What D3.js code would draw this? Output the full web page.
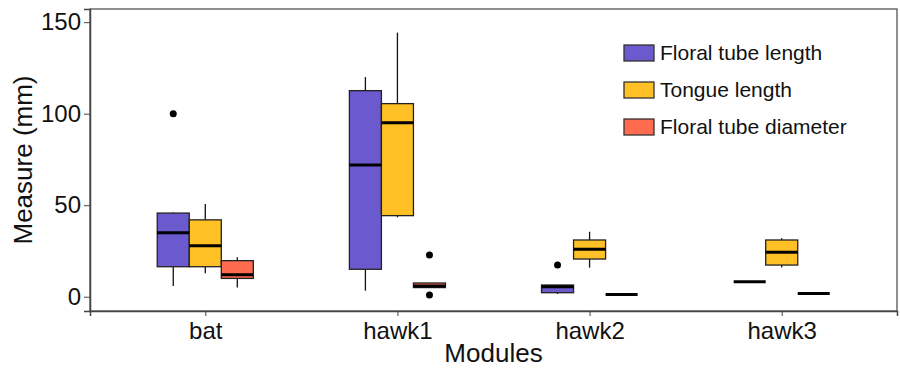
<!DOCTYPE html>
<html>
<head>
<meta charset="utf-8">
<script src="https://cdn.jsdelivr.net/npm/d3@7"></script>
<style>
  body { margin: 0; background: #fff; }
  text { font-family: "Liberation Sans", Arial, sans-serif; fill: #111; }
</style>
</head>
<body>
<div id="boxplotContainer"></div>
<script>

// categorieen en reeksen
var modules = ["bat", "hawk1", "hawk2", "hawk3"];
var reeksen = ["Floral tube length", "Tongue length", "Floral tube diameter"];
var kleuren = ["#6A5ACD", "#FFC125", "#FF6B4F"];
var yTicks = [0, 50, 100, 150];

// per module: [ondergrens snor, Q1, mediaan, Q3, bovengrens snor]
var buisLengte = [[5.8, 16.4, 35, 45.7, 46], [3.3, 15, 72, 112.6, 120], [1.5, 2.2, 5.5, 6.4, 6.4], [8.2, 8.2, 8.2, 8.2, 8.2]];
var tongLengte = [[12.8, 16.4, 27.9, 42, 50.6], [43.4, 44.3, 95, 105.5, 144.3], [15.9, 20.6, 25.9, 31, 35.5], [16, 17.3, 24.3, 31, 31.9]];
var buisDiameter = [[5.1, 10, 12, 19.7, 21.5], [5, 5, 5.8, 7.5, 7.5], [1.2, 1.2, 1.2, 1.2, 1.2], [1.8, 1.8, 1.8, 1.8, 1.8]];

// uitschieters per module
var buisLengteUit = [[100], [], [17.3], []];
var tongLengteUit = [[], [], [], []];
var buisDiameterUit = [[], [22.8, 0.9], [], []];

var breedte = 900;
var hoogte = 368;

// marges vast leggen
var marge = {boven: 9, beneden: 57, rechts: 3, links: 90};
var grafiekHoogte = hoogte - marge.boven - marge.beneden;
var grafiekBreedte = breedte - marge.rechts - marge.links;

// data per reeks samenvoegen
var statistiek = [buisLengte, tongLengte, buisDiameter];
var uitschieters = [buisLengteUit, tongLengteUit, buisDiameterUit];
var dozen = [];
var punten = [];
for (var j = 0; j < reeksen.length; j++) {
  for (var i = 0; i < modules.length; i++) {
    var s = statistiek[j][i];
    dozen.push({module: modules[i], reeks: j, lo: s[0], q1: s[1], med: s[2], q3: s[3], hi: s[4]});
    uitschieters[j][i].forEach(function(v) {
      punten.push({module: modules[i], reeks: j, waarde: v});
    });
  }
}

// maak een SVG element
var svg = d3.select("#boxplotContainer")
            .append("svg")
            .attr("height", hoogte)
            .attr("width", breedte);

// schaalfuncties
var x = d3.scalePoint()
          .domain(modules)
          .range([marge.links, marge.links + grafiekBreedte])
          .padding(0.6);

var y = d3.scaleLinear()
          .domain([-7.8, 157.2])
          .range([marge.boven + grafiekHoogte, marge.boven]);

var dozenBreedte = x.step() * 0.5 / reeksen.length;

function midden(d) {
  return x(d.module) + (d.reeks - 1) * dozenBreedte;
}

// paneelrand
svg.append("rect")
   .attr("x", marge.links)
   .attr("y", marge.boven)
   .attr("width", grafiekBreedte)
   .attr("height", grafiekHoogte)
   .attr("fill", "none")
   .attr("stroke", "#555")
   .attr("stroke-width", 1.3);

// y-as
var asY = d3.axisLeft(y).tickValues(yTicks).tickSize(6).tickPadding(3);
var gY = svg.append("g")
            .attr("class", "yAs")
            .attr("transform", "translate(" + marge.links + ",0)")
            .call(asY);
gY.select(".domain").attr("stroke", "#444").attr("stroke-width", 1.5);
gY.selectAll(".tick line").attr("stroke", "#444");
gY.selectAll(".tick text").attr("font-size", "24px").attr("fill", "#111");

// x-as
var asX = d3.axisBottom(x).tickSize(5).tickPadding(6);
var gX = svg.append("g")
            .attr("class", "xAs")
            .attr("transform", "translate(0," + (marge.boven + grafiekHoogte) + ")")
            .call(asX);
gX.select(".domain").attr("stroke", "#444").attr("stroke-width", 1.5);
gX.selectAll(".tick line").attr("stroke", "#444");
gX.selectAll(".tick text").attr("font-size", "24px").attr("fill", "#111");

// astitels
svg.append("text")
   .attr("transform", "rotate(-90)")
   .attr("x", -(marge.boven + grafiekHoogte / 2))
   .attr("y", 32)
   .attr("text-anchor", "middle")
   .attr("font-size", "26px")
   .text("Measure (mm)");

svg.append("text")
   .attr("x", marge.links + grafiekBreedte / 2)
   .attr("y", 362)
   .attr("text-anchor", "middle")
   .attr("font-size", "26px")
   .text("Modules");

// snorren
var snor = svg.append("g");
snor.selectAll(".snorOnder")
    .data(dozen)
    .enter()
    .append("line")
    .attr("x1", midden).attr("x2", midden)
    .attr("y1", function(d) { return y(d.lo); })
    .attr("y2", function(d) { return y(d.q1); })
    .attr("stroke", "#111").attr("stroke-width", 1.3);
snor.selectAll(".snorBoven")
    .data(dozen)
    .enter()
    .append("line")
    .attr("x1", midden).attr("x2", midden)
    .attr("y1", function(d) { return y(d.q3); })
    .attr("y2", function(d) { return y(d.hi); })
    .attr("stroke", "#111").attr("stroke-width", 1.3);

// dozen
svg.selectAll(".doos")
   .data(dozen)
   .enter()
   .append("rect")
   .attr("class", "doos")
   .attr("x", function(d) { return midden(d) - dozenBreedte / 2; })
   .attr("y", function(d) { return y(d.q3); })
   .attr("width", dozenBreedte)
   .attr("height", function(d) { return y(d.q1) - y(d.q3); })
   .attr("fill", function(d) { return kleuren[d.reeks]; })
   .attr("stroke", "#222")
   .attr("stroke-width", 1.3);

// medianen
svg.selectAll(".mediaan")
   .data(dozen)
   .enter()
   .append("line")
   .attr("class", "mediaan")
   .attr("x1", function(d) { return midden(d) - dozenBreedte / 2; })
   .attr("x2", function(d) { return midden(d) + dozenBreedte / 2; })
   .attr("y1", function(d) { return y(d.med); })
   .attr("y2", function(d) { return y(d.med); })
   .attr("stroke", "#000")
   .attr("stroke-width", 3);

// uitschieters
svg.selectAll(".punt")
   .data(punten)
   .enter()
   .append("circle")
   .attr("class", "punt")
   .attr("cx", midden)
   .attr("cy", function(d) { return y(d.waarde); })
   .attr("r", 3.5)
   .attr("fill", "#000");

// legenda
var legenda = svg.selectAll(".legenda")
                 .data(reeksen)
                 .enter()
                 .append("g")
                 .attr("class", "legenda")
                 .attr("transform", function(d, i) {
                   return "translate(624," + (53 + i * 37) + ")"; });

legenda.append("rect")
       .attr("x", 0)
       .attr("y", -8)
       .attr("width", 30)
       .attr("height", 16)
       .attr("fill", function(d, i) { return kleuren[i]; })
       .attr("stroke", "#333")
       .attr("stroke-width", 1.3);

legenda.append("text")
       .attr("x", 36)
       .attr("dy", "0.35em")
       .attr("font-size", "21px")
       .text(function(d) { return d; });

</script>
</body>
</html>
